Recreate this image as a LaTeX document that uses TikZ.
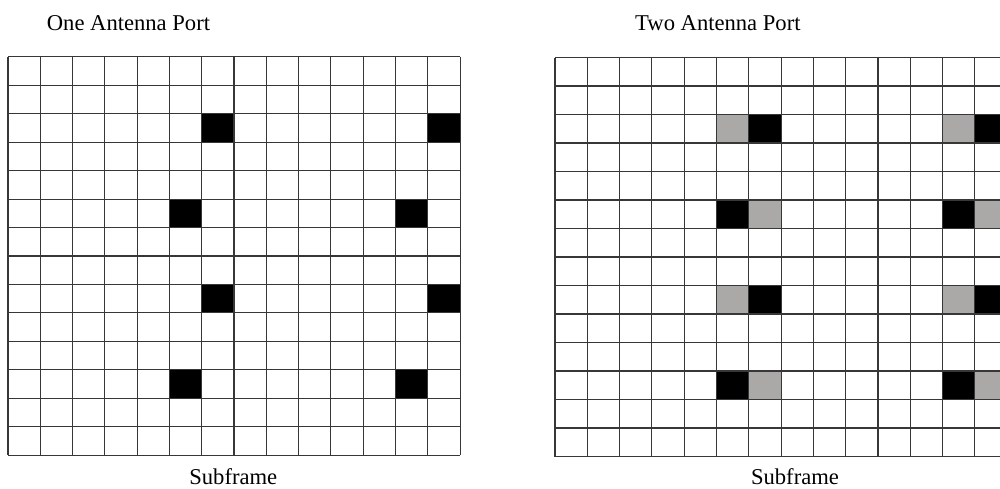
\documentclass[tikz,border=0pt]{standalone}
\usepackage{fontspec}
\setmainfont{Liberation Serif}
\definecolor{cellgrey}{RGB}{171,168,168}
\definecolor{linegrey}{RGB}{55,55,55}
\begin{document}
\begin{tikzpicture}[x=1pt,y=-1pt,
  gridline/.style={draw=linegrey, line width=1.1pt},
  blackcell/.style={fill=black},
  greycell/.style={fill=cellgrey},
  lbl/.style={font=\fontsize{22.6}{27}\selectfont, inner sep=0pt}]
\useasboundingbox (0,0) rectangle (1000,488);
\clip (0,0) rectangle (1000,488);
% left grid: one antenna port
\foreach \c/\r in {6/2,13/2,5/5,12/5,6/8,13/8,5/11,12/11}
  \fill[blackcell] ({8+\c*32.29},{56.7+\r*28.47}) rectangle ++(32.29,28.47);
\foreach \i in {0,...,14}{
  \draw[gridline] ({8+\i*32.29},56.7) -- ++(0,398.6);
  \draw[gridline] (8,{56.7+\i*28.47}) -- ++(452.1,0);
}
% right grid: two antenna ports
\foreach \c/\r in {6/2,13/2,5/5,12/5,6/8,13/8,5/11,12/11}
  \fill[blackcell] ({555+\c*32.3},{57.5+\r*28.5}) rectangle ++(32.3,28.5);
\foreach \c/\r in {5/2,12/2,6/5,13/5,5/8,12/8,6/11,13/11}
  \fill[greycell] ({555+\c*32.3},{57.5+\r*28.5}) rectangle ++(32.3,28.5);
\foreach \i in {0,...,14}{
  \draw[gridline] ({555+\i*32.3},57.5) -- ++(0,399);
  \draw[gridline] (555,{57.5+\i*28.5}) -- ++(452.2,0);
}
% labels
\node[lbl, anchor=base west] (t1) at (46.7,30) {One Antenna Port};
\node[lbl, anchor=base west] (t2) at (635,30) {Two Antenna Port};
\node[lbl, anchor=base] (s1) at (233.3,484.5) {Subframe};
\node[lbl, anchor=base] (s2) at (795,484.5) {Subframe};
\end{tikzpicture}
\end{document}
